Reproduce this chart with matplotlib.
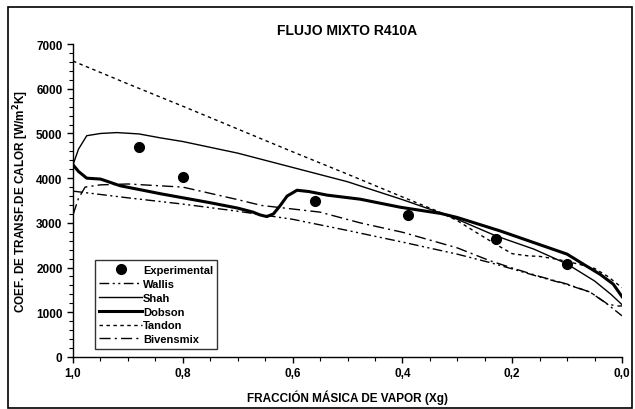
import matplotlib
matplotlib.use("Agg")
import matplotlib.pyplot as plt
from matplotlib.ticker import MultipleLocator, FuncFormatter
from matplotlib.patches import Rectangle

plt.rcParams['font.family'] = ['Liberation Sans', 'DejaVu Sans']
plt.rcParams['font.weight'] = 'bold'

# Experimental data
x_exp = [0.88, 0.80, 0.56, 0.39, 0.23, 0.10]
h_exp = [4700, 4020, 3500, 3170, 2650, 2090]

# Wallis correlation
x_wallis = [1.0, 0.9, 0.8, 0.7, 0.6, 0.5, 0.4, 0.3, 0.24, 0.2, 0.15, 0.1, 0.058, 0.027, 0.0]
h_wallis = [3710, 3560, 3420, 3260, 3080, 2830, 2570, 2300, 2110, 1970, 1790, 1620, 1450, 1185, 920]

# Shah correlation
x_shah = [1.0, 0.99, 0.975, 0.95, 0.92, 0.88, 0.84, 0.8, 0.7, 0.6, 0.5, 0.4, 0.33, 0.3,
          0.23, 0.16, 0.1, 0.05, 0.02, 0.0]
h_shah = [4300, 4650, 4950, 5000, 5020, 4990, 4900, 4820, 4560, 4240, 3920, 3520, 3220,
          3080, 2710, 2410, 2080, 1700, 1400, 1170]

# Dobson correlation
x_dobson = [1.0, 0.99, 0.975, 0.95, 0.914, 0.84, 0.75, 0.7, 0.672, 0.66, 0.647, 0.635,
            0.623, 0.61, 0.592, 0.57, 0.537, 0.477, 0.404, 0.33, 0.3, 0.222, 0.1,
            0.071, 0.04, 0.016, 0.0]
h_dobson = [4300, 4150, 4000, 3980, 3830, 3650, 3450, 3330, 3240, 3180, 3140, 3200,
            3380, 3600, 3730, 3700, 3620, 3530, 3350, 3210, 3120, 2820, 2300,
            2080, 1850, 1630, 1350]

# Tandon correlation
x_tandon = [1.0, 0.9, 0.8, 0.7, 0.6, 0.5, 0.4, 0.33, 0.3, 0.27, 0.246, 0.22, 0.2, 0.17,
            0.15, 0.12, 0.08, 0.05, 0.027, 0.0]
h_tandon = [6620, 6110, 5610, 5100, 4590, 4090, 3580, 3230, 3050, 2820, 2640, 2450, 2310,
            2260, 2250, 2190, 2080, 1980, 1810, 1550]

# Bivensmix correlation
x_bivens = [1.0, 0.99, 0.978, 0.95, 0.9, 0.8, 0.7, 0.657, 0.55, 0.477, 0.4, 0.3, 0.24,
            0.2, 0.15, 0.1, 0.058, 0.027, 0.01, 0.0]
h_bivens = [3180, 3550, 3800, 3850, 3870, 3800, 3520, 3390, 3240, 3000, 2790, 2440, 2150,
            1990, 1800, 1630, 1450, 1190, 1140, 1140]

fig = plt.figure(figsize=(6.35, 4.10), dpi=100)
ax = fig.add_axes([0.115, 0.127, 0.8645, 0.763])

# figure frame
fig.patches.append(Rectangle((8 / 635, 0.002), 0.995 - 8 / 635, 1 - 8 / 410 - 0.002,
                             transform=fig.transFigure, fill=False,
                             edgecolor='black', linewidth=1.2))

ax.plot(x_exp, h_exp, 'o', color='black', markersize=7, label='Experimental')
ax.plot(x_wallis, h_wallis, color='black', lw=1.0,
        dashes=(7, 2.5, 1.5, 2.5, 1.5, 2.5), label='Wallis')
ax.plot(x_shah, h_shah, color='black', lw=1.0, label='Shah')
ax.plot(x_dobson, h_dobson, color='black', lw=2.2, label='Dobson')
ax.plot(x_tandon, h_tandon, color='black', lw=1.0, dashes=(2.5, 2.5), label='Tandon')
ax.plot(x_bivens, h_bivens, color='black', lw=1.0,
        dashes=(8, 3, 1.5, 3), label='Bivensmix')

ax.set_xlim(1.0, 0.0)
ax.set_ylim(0, 7000)
ax.xaxis.set_major_locator(MultipleLocator(0.2))
ax.xaxis.set_minor_locator(MultipleLocator(0.05))
ax.yaxis.set_major_locator(MultipleLocator(1000))
ax.yaxis.set_minor_locator(MultipleLocator(200))
ax.xaxis.set_major_formatter(FuncFormatter(lambda v, p: f"{v:.1f}".replace('.', ',')))
ax.yaxis.set_major_formatter(FuncFormatter(lambda v, p: f"{v:.0f}"))

for s in ['top', 'right']:
    ax.spines[s].set_visible(False)
for s in ['left', 'bottom']:
    ax.spines[s].set_linewidth(1.0)

ax.tick_params(which='major', length=4, width=1.0, labelsize=8.5, direction='out')
ax.tick_params(which='minor', length=3, width=0.8, direction='out')
for lbl in ax.get_xticklabels() + ax.get_yticklabels():
    lbl.set_fontweight('bold')

ax.set_title('FLUJO MIXTO R410A', fontsize=10, fontweight='bold', pad=7)
ax.set_xlabel('FRACCIÓN MÁSICA DE VAPOR (Xg)', fontsize=8.5, fontweight='bold', labelpad=7)
ax.set_ylabel('COEF. DE TRANSF.DE CALOR [W/m$^\\mathbf{2}$K]', fontsize=8.5,
              fontweight='bold', labelpad=4)

leg = ax.legend(loc='lower left', bbox_to_anchor=(0.04, 0.026), borderaxespad=0,
                frameon=True, fancybox=False, handlelength=3.8, handletextpad=0.1,
                labelspacing=0.35, borderpad=0.4, prop={'size': 8, 'weight': 'bold'})
leg.get_frame().set_edgecolor('black')
leg.get_frame().set_linewidth(1.0)

fig.savefig('out.png', dpi=100)
